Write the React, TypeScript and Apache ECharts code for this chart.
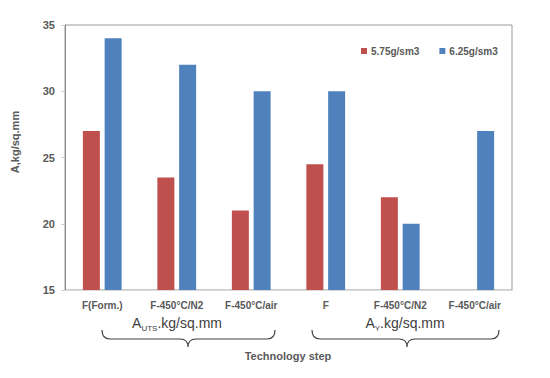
import React, { useEffect, useRef } from "react";
import * as echarts from "echarts";

const categories = ["F(Form.)", "F-450°C/N2", "F-450°C/air", "F", "F-450°C/N2", "F-450°C/air"];
const series575 = [27, 23.5, 21, 24.5, 22, null];
const series625 = [34, 32, 30, 30, 20, 27];
const seriesNames = ["5.75g/sm3", "6.25g/sm3"];
const yMin = 15;
const yMax = 35;
const yStep = 5;

function bracePath(x1: number, x2: number, xm: number, y0: number, y1: number, y2: number) {
  const r = 8;
  return `M${x1},${y0} Q${x1},${y1} ${x1 + r},${y1} L${xm - r},${y1} Q${xm},${y1} ${xm},${y2} Q${xm},${y1} ${xm + r},${y1} L${x2 - r},${y1} Q${x2},${y1} ${x2},${y0}`;
}

echarts.graphic.registerShape("braceL", echarts.graphic.extendPath(bracePath(102, 275, 188, 330, 339, 347), {}) as any);
echarts.graphic.registerShape("braceR", echarts.graphic.extendPath(bracePath(312, 499, 407, 330, 339, 347), {}) as any);

export default function App() {
  const ref = useRef<HTMLDivElement>(null);
  useEffect(() => {
    if (!ref.current) return;
    const chart = echarts.init(ref.current, undefined, { renderer: "svg" });
    const font = "'Liberation Sans', Arial, sans-serif";
    const gray = "#595959";
    const braceStyle = { fill: "none", stroke: "#404040", lineWidth: 1.2 };
    chart.setOption({
      animation: false,
      backgroundColor: "#ffffff",
      textStyle: { fontFamily: font },
      grid: { left: 65, top: 25, width: 447, height: 265, show: true, borderColor: "#9a9a9a", borderWidth: 1, backgroundColor: "transparent" },
      legend: {
        left: 356,
        top: 41,
        itemWidth: 6,
        itemHeight: 6,
        itemGap: 20,
        icon: "rect",
        textStyle: { fontSize: 10, fontWeight: "bold", color: gray, fontFamily: font, padding: [0, 0, 0, -1] },
        data: seriesNames,
      },
      xAxis: {
        type: "category",
        data: categories,
        axisLine: { show: true, lineStyle: { color: "#d9d9d9" } },
        axisTick: { show: false },
        axisLabel: { fontSize: 10, fontWeight: "bold", color: gray, margin: 10, interval: 0, fontFamily: font },
      },
      yAxis: {
        type: "value",
        min: yMin,
        max: yMax,
        interval: yStep,
        axisLine: { show: true, lineStyle: { color: "#8c8c8c" } },
        axisTick: { show: true, inside: false, length: 4, lineStyle: { color: "#d0d0d0" } },
        splitLine: { show: false },
        axisLabel: { fontSize: 11, fontWeight: "bold", color: gray, margin: 10, fontFamily: font },
      },
      series: [
        { name: seriesNames[0], type: "bar", data: series575, barWidth: 17, barGap: "28%", itemStyle: { color: "#C0504D" } },
        { name: seriesNames[1], type: "bar", data: series625, barWidth: 17, barGap: "28%", itemStyle: { color: "#4F81BD" } },
      ],
      graphic: [
        {
          type: "text",
          x: 15,
          y: 142,
          rotation: Math.PI / 2,
          style: { text: "A,kg/sq.mm", fontSize: 11, fontWeight: "bold", fill: gray, align: "center", verticalAlign: "middle", fontFamily: font },
        },
        {
          type: "text",
          x: 177,
          y: 323,
          style: {
            text: "{a|A}{s|UTS}{a|.kg/sq.mm}",
            align: "center",
            verticalAlign: "middle",
            fontFamily: font,
            rich: {
              a: { fontSize: 14, fill: "#404040", fontFamily: font, lineHeight: 18 },
              s: { fontSize: 8, fill: "#404040", fontFamily: font, lineHeight: 18, verticalAlign: "bottom", padding: [6, 0, 0, 0] },
            },
          },
        },
        {
          type: "text",
          x: 405,
          y: 323,
          style: {
            text: "{a|A}{s|Y}{a|.kg/sq.mm}",
            align: "center",
            verticalAlign: "middle",
            fontFamily: font,
            rich: {
              a: { fontSize: 14, fill: "#404040", fontFamily: font, lineHeight: 18 },
              s: { fontSize: 8, fill: "#404040", fontFamily: font, lineHeight: 18, verticalAlign: "bottom", padding: [6, 0, 0, 0] },
            },
          },
        },
        { type: "braceL", shape: {}, style: braceStyle },
        { type: "braceR", shape: {}, style: braceStyle },
        {
          type: "text",
          x: 288,
          y: 356,
          style: { text: "Technology step", fontSize: 11, fontWeight: "bold", fill: gray, align: "center", verticalAlign: "middle", fontFamily: font },
        },
      ],
    });
    return () => chart.dispose();
  }, []);
  return <div ref={ref} style={{ position: "absolute", left: 0, top: 0, width: 550, height: 378 }} />;
}
